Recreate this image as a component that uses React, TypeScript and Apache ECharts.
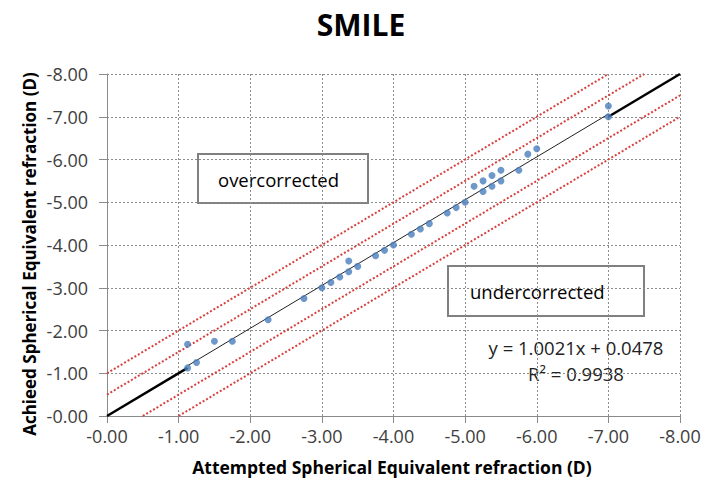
import React, { useEffect, useRef } from "react";
import * as echarts from "echarts";

// Attempted vs achieved spherical equivalent refraction (D), SMILE cohort
const attempted = [
  -1.125, -1.125, -1.25, -1.5, -1.75, -2.25, -2.75, -3.0, -3.125, -3.25, -3.375, -3.375,
  -3.5, -3.75, -3.875, -4.0, -4.25, -4.375, -4.5, -4.75, -4.875, -5.0, -5.125, -5.25,
  -5.25, -5.375, -5.375, -5.5, -5.5, -5.75, -5.875, -6.0, -7.0, -7.0,
];
const achieved = [
  -1.68, -1.125, -1.25, -1.75, -1.75, -2.25, -2.75, -3.0, -3.125, -3.25, -3.375, -3.625,
  -3.5, -3.75, -3.875, -4.0, -4.25, -4.375, -4.5, -4.75, -4.875, -5.0, -5.375, -5.5,
  -5.25, -5.625, -5.375, -5.75, -5.5, -5.75, -6.125, -6.25, -7.25, -7.0,
];

// Axis range (both axes run from -0.00 to -8.00)
const axisMin = -8;
const axisMax = 0;
const axisStep = 1;

// Tolerance bands around the identity line (D)
const bandOffsets = [1, 0.5, -0.5, -1];

// Linear fit on refraction magnitudes
const fitSlope = 1.0021;
const fitIntercept = 0.0478;
const fitR2 = 0.9938;

const title = "SMILE";
const xTitle = "Attempted Spherical Equivalent refraction (D)";
const yTitle = "Achieed Spherical Equivalent refraction (D)";
const overLabel = "overcorrected";
const underLabel = "undercorrected";

const FONT = "'Open Sans', 'Liberation Sans', sans-serif";

const fmtTick = (v: number) => "-" + Math.abs(v).toFixed(2);

// band line y = x - d, clipped to the plotting square
function bandSegment(d: number): number[][] {
  const x0 = Math.min(axisMax, axisMax + d);
  const x1 = Math.max(axisMin, axisMin + d);
  return [
    [x0, x0 - d],
    [x1, x1 - d],
  ];
}

export default function App() {
  const ref = useRef<HTMLDivElement>(null);

  useEffect(() => {
    if (!ref.current) return;
    const chart = echarts.init(ref.current, undefined, { renderer: "svg" });

    const points = attempted.map((x, i) => [x, achieved[i]]);
    const xLo = Math.max(...attempted); // least myopic attempt
    const xHi = Math.min(...attempted); // most myopic attempt
    const fitAt = (x: number) => -(fitSlope * -x + fitIntercept);

    const bandSeries = bandOffsets.map((d) => ({
      type: "line" as const,
      data: bandSegment(d),
      symbol: "none",
      silent: true,
      lineStyle: { color: "#d6423f", width: 2, type: [2, 2] as any },
      z: 2,
    }));

    chart.setOption({
      animation: false,
      backgroundColor: "#ffffff",
      title: {
        text: title,
        left: 356,
        top: 4,
        textAlign: "center",
        textStyle: { fontFamily: FONT, fontSize: 30, fontWeight: "bold", color: "#000" },
      },
      grid: { left: 107, right: 25, top: 74, bottom: 73 },
      xAxis: {
        type: "value",
        min: axisMin,
        max: axisMax,
        interval: axisStep,
        inverse: true,
        axisLine: { show: true, onZero: false, lineStyle: { color: "#8a8a8a", width: 1 } },
        axisTick: { show: true, length: 7, lineStyle: { color: "#8a8a8a" } },
        axisLabel: {
          formatter: fmtTick,
          margin: 11,
          fontFamily: FONT,
          fontSize: 18,
          color: "#404040",
        },
        splitLine: { show: true, lineStyle: { color: "#8c8c8c", width: 1, type: [2, 2] } },
      },
      yAxis: {
        type: "value",
        min: axisMin,
        max: axisMax,
        interval: axisStep,
        inverse: true,
        axisLine: { show: true, onZero: false, lineStyle: { color: "#8a8a8a", width: 1 } },
        axisTick: { show: true, length: 8, lineStyle: { color: "#8a8a8a" } },
        axisLabel: {
          formatter: fmtTick,
          margin: 19,
          fontFamily: FONT,
          fontSize: 18,
          color: "#404040",
        },
        splitLine: { show: true, lineStyle: { color: "#8c8c8c", width: 1, type: [2, 2] } },
      },
      series: [
        ...bandSeries,
        {
          type: "line",
          data: [
            [axisMax, axisMax],
            [xLo, xLo],
          ],
          symbol: "none",
          silent: true,
          lineStyle: { color: "#000", width: 2.5 },
          z: 3,
        },
        {
          type: "line",
          data: [
            [xHi, xHi],
            [axisMin, axisMin],
          ],
          symbol: "none",
          silent: true,
          lineStyle: { color: "#000", width: 2.5 },
          z: 3,
        },
        {
          type: "line",
          data: [
            [xLo, fitAt(xLo)],
            [xHi, fitAt(xHi)],
          ],
          symbol: "none",
          silent: true,
          lineStyle: { color: "#222", width: 1 },
          z: 3,
        },
        {
          type: "scatter",
          data: points,
          symbol: "circle",
          symbolSize: 7,
          itemStyle: { color: "#4a7ebb" },
          z: 4,
        },
      ],
      graphic: [
        {
          type: "text",
          x: 392,
          y: 467,
          style: {
            text: xTitle,
            font: `bold 17.5px ${FONT}`,
            fill: "#000",
            align: "center",
            verticalAlign: "middle",
          },
        },
        {
          type: "text",
          x: 29,
          y: 254,
          rotation: Math.PI / 2,
          style: {
            text: yTitle,
            font: `bold 17px ${FONT}`,
            fill: "#000",
            align: "center",
            verticalAlign: "middle",
          },
        },
        {
          type: "group",
          x: 198,
          y: 154,
          children: [
            {
              type: "rect",
              shape: { x: 0, y: 0, width: 170, height: 49 },
              style: { fill: "#fff", stroke: "#808080", lineWidth: 2 },
            },
            {
              type: "text",
              x: 20,
              y: 25,
              style: {
                text: overLabel,
                font: `18.5px ${FONT}`,
                fill: "#000",
                align: "left",
                verticalAlign: "middle",
              },
            },
          ],
        },
        {
          type: "group",
          x: 448,
          y: 266,
          children: [
            {
              type: "rect",
              shape: { x: 0, y: 0, width: 196, height: 50 },
              style: { fill: "#fff", stroke: "#808080", lineWidth: 2 },
            },
            {
              type: "text",
              x: 22,
              y: 25,
              style: {
                text: underLabel,
                font: `18.5px ${FONT}`,
                fill: "#000",
                align: "left",
                verticalAlign: "middle",
              },
            },
          ],
        },
        {
          type: "text",
          x: 576,
          y: 347,
          style: {
            text: `y = ${fitSlope.toFixed(4)}x + ${fitIntercept.toFixed(4)}`,
            font: `18.5px ${FONT}`,
            fill: "#222",
            align: "center",
            verticalAlign: "middle",
          },
        },
        {
          type: "text",
          x: 576,
          y: 373,
          style: {
            text: `R² = ${fitR2.toFixed(4)}`,
            font: `18.5px ${FONT}`,
            fill: "#222",
            align: "center",
            verticalAlign: "middle",
          },
        },
      ],
    });

    return () => chart.dispose();
  }, []);

  return (
    <div
      ref={ref}
      style={{ position: "fixed", left: 0, top: 0, width: 705, height: 489, background: "#fff" }}
    />
  );
}
